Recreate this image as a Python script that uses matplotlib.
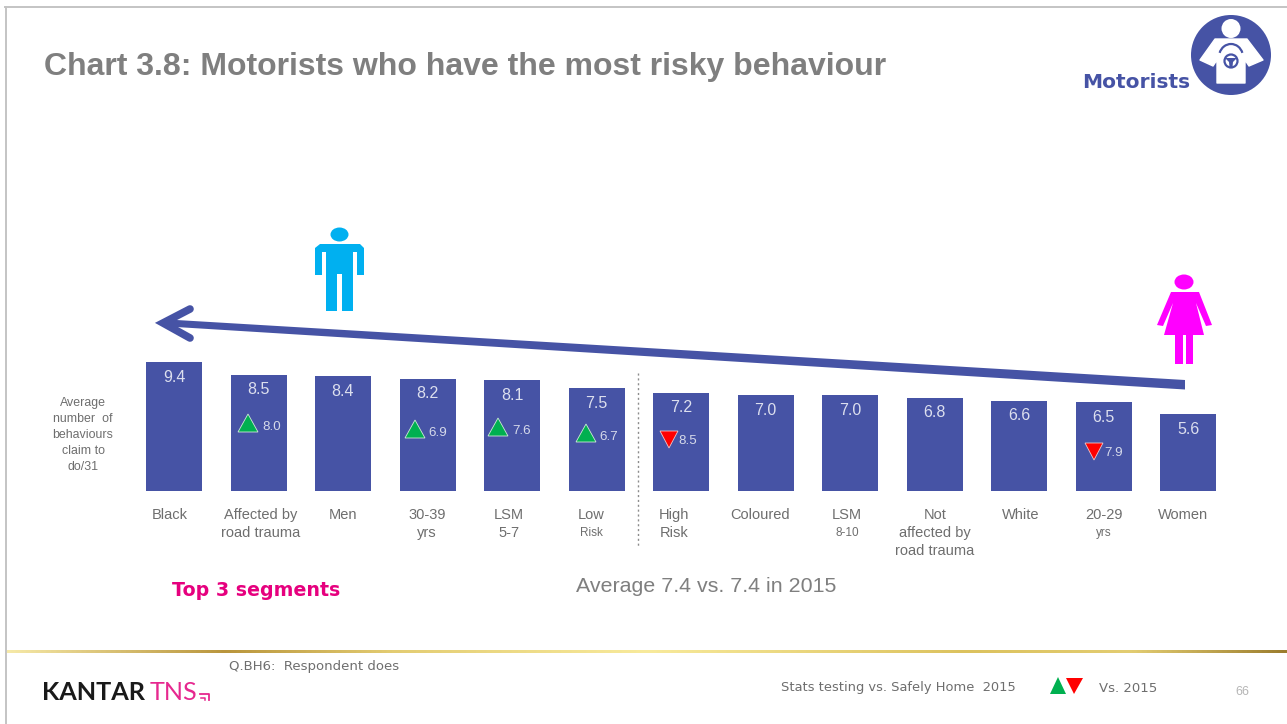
import numpy as np
import matplotlib
matplotlib.use("Agg")
import matplotlib.pyplot as plt
from matplotlib.colors import LinearSegmentedColormap
from matplotlib.patches import Polygon, Circle, Ellipse, Arc

# Chart data
categories = ["Black", "Affected by\nroad trauma", "Men", "30-39\nyrs", "LSM\n5-7", "Low\nRisk",
              "High\nRisk", "Coloured", "LSM\n8-10", "Not\naffected by\nroad trauma",
              "White", "20-29\nyrs", "Women"]
scores = [9.4, 8.5, 8.4, 8.2, 8.1, 7.5, 7.2, 7.0, 7.0, 6.8, 6.6, 6.5, 5.6]
prior_index = [1, 3, 4, 5, 6, 11]
prior_scores = [8.0, 6.9, 7.6, 6.7, 8.5, 7.9]
prior_up = [True, True, True, True, False, False]

W, H = 1287, 724
BLUE = "#4653A5"
GREY = "#7f7f7f"
TXT = "#6e6e6e"
GREEN = "#00B050"
RED = "#FF0000"
plt.rcParams["font.family"] = ["Liberation Sans", "DejaVu Sans"]

fig = plt.figure(figsize=(W / 100, H / 100), dpi=100, facecolor="white")

# Bar plot axes
step = 84.5
x0 = 174.0
unit = 13.68
base = 491.0
left = x0 - 0.5 * step
right = x0 + 12.5 * step
ax = fig.add_axes([left / W, 1 - base / H, (right - left) / W, 10 * unit / H], zorder=1)
ax.set_xlim(-0.5, 12.5)
ax.set_ylim(0, 10)
ax.axis("off")
xs = np.arange(len(scores))
ax.bar(xs, scores, width=56 / step, color=BLUE, linewidth=0)
for x, v in zip(xs, scores):
    ax.annotate(f"{v:.1f}", (x, v), xytext=(0, -15), textcoords="offset pixels",
                ha="center", va="center", color="#dcdfee", fontsize=11.5)

# Full-slide overlay in pixel units, for furniture and annotations
ov = fig.add_axes([0, 0, 1, 1], zorder=2)
ov.set_xlim(0, W)
ov.set_ylim(H, 0)
ov.axis("off")

# Category labels
small_second = {"Low\nRisk": True, "LSM\n8-10": True, "20-29\nyrs": True}
label_x = [170, 261, 343, 427, 509, 591, 674, 760, 847, 935, 1021, 1104, 1183]
for lx, c in zip(label_x, categories):
    lines = c.split("\n")
    for i, ln in enumerate(lines):
        fs = 8.5 if (i == 1 and c in small_second) else 10.5
        ov.text(lx, 515 + i * 18, ln, ha="center", va="center", color=TXT, fontsize=fs)

# Prior-year markers inside bars
tri_x = [248, 415, 498, 586, 669, 1094]
tri_y = [423, 429, 427, 433, 439, 451]
val_x = [271.5, 438, 521.5, 609, 688, 1114]
val_y = [427, 433, 431, 437, 441, 453]
for i, v, up, tx, ty, vx, vy in zip(prior_index, prior_scores, prior_up, tri_x, tri_y, val_x, val_y):
    if up:
        pts = [(tx - 10, ty + 9), (tx + 10, ty + 9), (tx, ty - 9)]
    else:
        pts = [(tx - 9, ty - 8), (tx + 9, ty - 8), (tx, ty + 9)]
    ov.add_patch(Polygon(pts, closed=True, facecolor=GREEN if up else RED,
                         edgecolor="#cfe8d8" if up else "#f0c8c8", linewidth=0.6, zorder=5))
    ov.text(vx, vy, f"{v:.1f}", ha="center", va="center", color="#d6daea", fontsize=9.6, zorder=5)

# Slide frame
ov.plot([5.5, 5.5], [7, H], color="#c4c4c4", lw=1.4)
ov.plot([5, W], [7, 7], color="#c4c4c4", lw=1.4)

# Footer rule with metallic gold gradient
gold = LinearSegmentedColormap.from_list(
    "gold",
    [(0, "#f6e9a8"), (0.17, "#b9953c"), (0.3, "#e3cc72"), (0.5, "#f8ea9c"),
     (0.75, "#dcc25e"), (0.88, "#e3cd72"), (1, "#9c7d2e")])
ov.imshow(np.linspace(0, 1, 512)[None, :], cmap=gold, aspect="auto", extent=(6, W, 653.2, 650.6), zorder=1)
ov.set_xlim(0, W)
ov.set_ylim(H, 0)

# Title
ov.text(44, 66.5, "Chart 3.8: Motorists who have the most risky behaviour", ha="left", va="center",
        color=GREY, fontsize=23.05, fontweight="bold")

# Badge: driver at a steering wheel
ov.add_patch(Circle((1231, 55), 40, facecolor=BLUE, edgecolor="none"))
ov.add_patch(Circle((1231, 28.5), 9.5, facecolor="white", edgecolor="none"))
ov.add_patch(Polygon([(1215, 39), (1247, 39), (1263, 60), (1249, 66), (1245, 60), (1245, 83), (1217, 83),
                      (1217, 60), (1213, 66), (1200, 60)],
                     closed=True, facecolor="white", edgecolor="white", linewidth=1, joinstyle="round"))
ov.add_patch(Arc((1231, 57), 24, 26, theta1=200, theta2=340, edgecolor=BLUE, linewidth=1.6))
ov.add_patch(Circle((1231, 61), 6.5, facecolor="none", edgecolor=BLUE, linewidth=1.6))
ov.add_patch(Polygon([(1225, 58), (1237, 58), (1233, 62), (1232.5, 67), (1229.5, 67), (1229, 62)], closed=True,
                     facecolor=BLUE, edgecolor="none"))
ov.text(1136, 82, "Motorists", ha="center", va="center", color=BLUE, fontsize=14.5,
        fontweight="bold", family="DejaVu Sans")

# Trend arrow, tapering towards its head
ov.add_patch(Polygon([(1185, 380), (1185, 389.5), (168, 326.5), (168, 319.5)], closed=True,
                     facecolor=BLUE, edgecolor="none"))
ov.plot([190, 163, 190], [309, 323, 338], color=BLUE, lw=5.5, solid_capstyle="round", solid_joinstyle="miter")

# Man pictogram
MAN = "#00B0F0"
ov.add_patch(Ellipse((339.5, 234.5), 18, 14, facecolor=MAN, edgecolor="none"))
ov.add_patch(Polygon([(320, 244), (360, 244), (364, 248), (364, 275), (357, 275), (357, 252), (353, 252),
                      (353, 311), (342, 311), (342, 274), (337, 274), (337, 311), (326, 311), (326, 252),
                      (322, 252), (322, 275), (315, 275), (315, 248)],
                     closed=True, facecolor=MAN, edgecolor="none"))

# Woman pictogram
WOMAN = "#FF00FF"
ov.add_patch(Ellipse((1184, 282), 19, 15, facecolor=WOMAN, edgecolor="none"))
ov.add_patch(Polygon([(1171, 292), (1199, 292), (1212, 325), (1206, 326), (1196, 303), (1204, 335),
                      (1193, 335), (1193, 364), (1186, 364), (1186, 335), (1183, 335), (1183, 364),
                      (1175, 364), (1175, 335), (1164, 335), (1173, 303), (1163, 326), (1157, 325)],
                     closed=True, facecolor=WOMAN, edgecolor="none"))

# Divider between upper and lower segments
ov.plot([638, 638], [373, 547], color="#8c8c8c", lw=1.0, ls=(0, (1.5, 2)))

# Axis description
for i, ln in enumerate(["Average", "number  of", "behaviours", "claim to", "do/31"]):
    ov.text(83, 403 + i * 16, ln, ha="center", va="center", color=TXT, fontsize=8.9)

# Callouts
ov.text(256, 590, "Top 3 segments", ha="center", va="center", color="#E6007E", fontsize=13.7,
        fontweight="bold", family="DejaVu Sans")
ov.text(706.5, 586, "Average 7.4 vs. 7.4 in 2015", ha="center", va="center", color=GREY, fontsize=15.4)

# Footer notes
ov.text(229, 666.5, "Q.BH6:  Respondent does", ha="left", va="center", color=TXT, fontsize=9.5, family="DejaVu Sans")
ov.text(781, 687, "Stats testing vs. Safely Home  2015", ha="left", va="center", color=TXT, fontsize=9.4, family="DejaVu Sans")
ov.text(1099, 688, "Vs. 2015", ha="left", va="center", color=TXT, fontsize=9.5, family="DejaVu Sans")
ov.text(1242, 692, "66", ha="center", va="center", color="#b5b5b5", fontsize=9)
ov.add_patch(Polygon([(1050, 694), (1066, 694), (1058, 677)], closed=True, facecolor=GREEN, edgecolor="none"))
ov.add_patch(Polygon([(1066, 678), (1083, 678), (1074, 694)], closed=True, facecolor=RED, edgecolor="none"))

# Logo wordmark
ov.text(42, 692, "KANTAR", ha="left", va="center", color="#1a1a1a", fontsize=18.2, family="Lato", fontweight="bold")
ov.text(150, 692, "TNS", ha="left", va="center", color="#E6288F", fontsize=18.2, family="Lato")
ov.plot([200, 208.5, 208.5], [693.5, 693.5, 700], color="#E6288F", lw=1.3)
ov.plot([201, 205, 205], [697.5, 697.5, 700], color="#E6288F", lw=1.1)

fig.savefig("out.png", dpi=100, facecolor="white")
